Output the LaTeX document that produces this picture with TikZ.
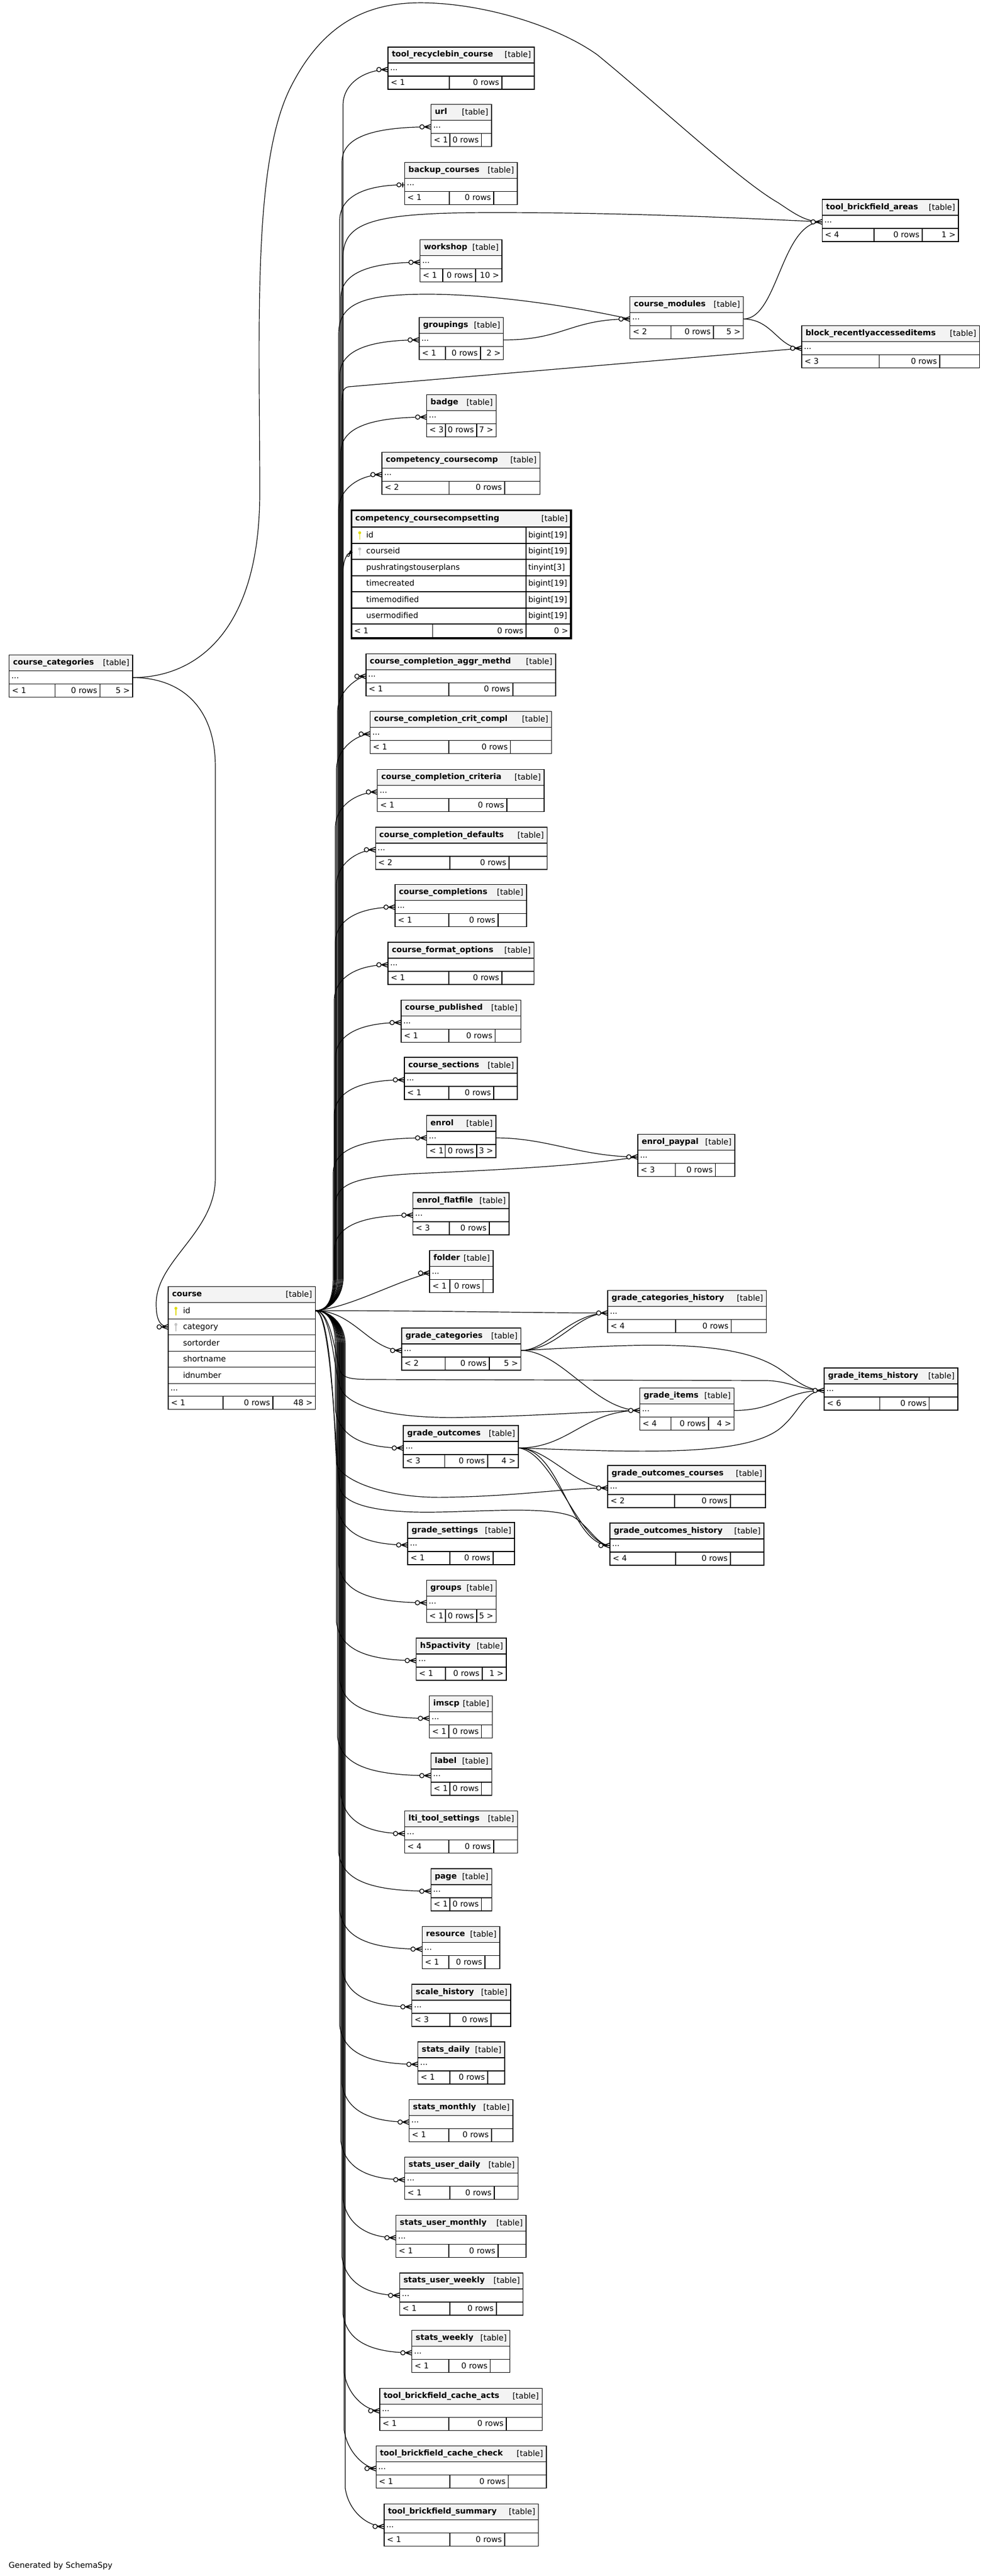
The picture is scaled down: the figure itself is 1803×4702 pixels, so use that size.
\documentclass[tikz,border=0pt]{standalone}
\usepackage{fontspec}
\setmainfont{DejaVu Sans}
\usepackage{tikz}

\definecolor{hdgray}{HTML}{F3F3F3}
\definecolor{keyyellow}{HTML}{E0DC00}
\definecolor{keygray}{HTML}{C4C4C4}

\tikzset{
  cell/.style={draw, line width=1.3pt, fill=white, inner sep=0pt, outer sep=0pt, anchor=north west, minimum height=24pt},
  hdcell/.style={cell, fill=hdgray, minimum height=29pt},
  txt/.style={inner sep=0pt, outer sep=0pt, text height=9pt, text depth=0pt, font=\fontsize{14.5pt}{17pt}\selectfont},
  ttl/.style={txt, font=\fontsize{14.5pt}{17pt}\selectfont\bfseries},
  fk/.style={line width=1.2pt},
  crowfoot/.pic={
    \draw[line width=1.5pt] (-12pt,0pt) -- (0pt,4.5pt) (-12pt,0pt) -- (0pt,-4.5pt) (-12pt,0pt) -- (0pt,0pt);
    \draw[line width=1.3pt, fill=white] (-16.5pt,0pt) circle (4pt);
  },
  teedot/.pic={
    \draw[line width=2.2pt] (-3.6pt,-4.5pt) -- (-3.6pt,4.5pt);
    \draw[line width=1.3pt, fill=white] (-10.4pt,0pt) circle (3.8pt);
  },
  pkkey/.pic={
    \fill[#1] (0pt,4.5pt) circle (2.7pt);
    \fill[#1] (-0.9pt,4.5pt) rectangle (0.9pt,-8pt);
  }
}

% table: name, title, left, top, right, footer split 1, footer split 2, left count, right count
\newcommand{\dbtable}[9]{%
  \node[hdcell, minimum width={(#5-#3)*1pt}] (#1) at (#3,#4) {};
  \node[ttl, anchor=west] (#1-n) at ([xshift=7pt,yshift=1pt]#1.west) {#2};
  \node[txt, anchor=east] (#1-k) at ([xshift=-6pt]#1.east) {[table]};
  \node[cell, minimum width={(#5-#3)*1pt}] (#1-r) at (#1.south west) {};
  \node[txt, anchor=west] (#1-d) at ([xshift=4pt,yshift=3pt]#1-r.west) {...};
  \node[cell, minimum width={(#6-#3)*1pt}] (#1-a) at (#1-r.south west) {};
  \node[cell, minimum width={(#7-#6)*1pt}] (#1-b) at (#1-a.north east) {};
  \node[cell, minimum width={(#5-#7)*1pt}] (#1-c) at (#1-b.north east) {};
  \node[txt, anchor=west] (#1-p) at ([xshift=5pt]#1-a.west) {#8};
  \node[txt, anchor=east] (#1-q) at ([xshift=-5pt]#1-b.east) {0 rows};
  \node[txt, anchor=east] (#1-s) at ([xshift=-5pt]#1-c.east) {#9};
}

\begin{document}
\begin{tikzpicture}[x=1pt, y=-1pt]
\useasboundingbox (0,0) rectangle (1803,4702);

\dbtable{recycle}{tool\_recyclebin\_course}{708}{86}{975}{820}{916}{< 1}{}
\dbtable{url}{url}{786.6}{190.6}{897}{821}{878.6}{< 1}{}
\dbtable{backup}{backup\_courses}{738.4}{296.4}{944}{820}{901}{< 1}{}
\dbtable{tba}{tool\_brickfield\_areas}{1500.4}{364}{1749}{1595}{1683}{< 4}{1 >}
\dbtable{workshop}{workshop}{766.5}{437.8}{916}{808}{868}{< 1}{10 >}
\dbtable{cm}{course\_modules}{1149.8}{541.3}{1356.5}{1224.7}{1302}{< 2}{5 >}
\dbtable{groupings}{groupings}{765}{579.5}{918.8}{813}{877}{< 1}{2 >}
\dbtable{bra}{block\_recentlyaccesseditems}{1463}{594.7}{1787.4}{1604.5}{1715}{< 3}{}
\dbtable{badge}{badge}{778.7}{720.3}{905.3}{813}{870}{< 3}{7 >}
\dbtable{ccomp}{competency\_coursecomp}{697}{825.3}{985.3}{819.7}{921}{< 2}{}
\dbtable{cc}{course\_categories}{16.8}{1195.7}{242}{100.4}{182.5}{< 1}{5 >}
\dbtable{ccaggr}{course\_completion\_aggr\_methd}{667.9}{1193.4}{1014}{819}{936}{< 1}{}
\dbtable{cccrit}{course\_completion\_crit\_compl}{675.5}{1298.8}{1006.6}{819}{931.6}{< 1}{}
\dbtable{cccrita}{course\_completion\_criteria}{688.8}{1404.6}{992.9}{819}{925}{< 1}{}
\dbtable{ccdef}{course\_completion\_defaults}{685.2}{1510}{998.5}{821}{929}{< 2}{}
\dbtable{ccompl}{course\_completions}{721}{1614.8}{961}{819}{909}{< 1}{}
\dbtable{cfo}{course\_format\_options}{708}{1720}{974.5}{819}{916}{< 1}{}
\dbtable{cpub}{course\_published}{732}{1825.5}{950.5}{819}{903.6}{< 1}{}
\dbtable{csec}{course\_sections}{738}{1930}{944}{819}{901}{< 1}{}
\dbtable{enrol}{enrol}{778.6}{2036}{905}{812.8}{870}{< 1}{3 >}
\dbtable{epay}{enrol\_paypal}{1164}{2070.7}{1341}{1232.7}{1305.6}{< 3}{}
\dbtable{eflat}{enrol\_flatfile}{753.6}{2177}{929}{820}{893}{< 3}{}
\dbtable{folder}{folder}{784}{2282.7}{900}{821}{881.6}{< 1}{}
\dbtable{gch}{grade\_categories\_history}{1109}{2355.6}{1398.6}{1233}{1334.5}{< 4}{}
\dbtable{gc}{grade\_categories}{733}{2424}{950.5}{812.8}{893}{< 2}{5 >}
\dbtable{gih}{grade\_items\_history}{1504}{2497}{1748}{1605.6}{1695.8}{< 6}{}
\dbtable{gi}{grade\_items}{1167.6}{2533.5}{1339.4}{1224.6}{1293}{< 4}{4 >}
\dbtable{go}{grade\_outcomes}{736}{2602}{946}{811.7}{890}{< 3}{4 >}
\dbtable{goc}{grade\_outcomes\_courses}{1109}{2675}{1397}{1231}{1333}{< 2}{}
\dbtable{goh}{grade\_outcomes\_history}{1113}{2780}{1394}{1233}{1333}{< 4}{}
\dbtable{gset}{grade\_settings}{744}{2779}{939}{821}{900}{< 1}{}
\dbtable{groups}{groups}{778.3}{2884.5}{905.3}{813}{870}{< 1}{5 >}
\dbtable{h5p}{h5pactivity}{759.7}{2990}{924}{813}{880}{< 1}{1 >}
\dbtable{imscp}{imscp}{783.7}{3095.5}{898.7}{819}{878.7}{< 1}{}
\dbtable{label}{label}{786.3}{3200}{897.3}{821}{878.7}{< 1}{}
\dbtable{lti}{lti\_tool\_settings}{738.3}{3305.8}{944.3}{819}{901}{< 4}{}
\dbtable{page}{page}{786.3}{3411}{897.3}{821}{878.7}{< 1}{}
\dbtable{resource}{resource}{770.3}{3516.7}{912}{819}{885}{< 1}{}
\dbtable{scaleh}{scale\_history}{751.7}{3622}{932}{821}{896}{< 3}{}
\dbtable{sdaily}{stats\_daily}{762.7}{3727}{921}{821}{890}{< 1}{}
\dbtable{smonthly}{stats\_monthly}{746.7}{3832.4}{936}{819}{897}{< 1}{}
\dbtable{sudaily}{stats\_user\_daily}{738.7}{3937.6}{945.3}{821}{902}{< 1}{}
\dbtable{sumonthly}{stats\_user\_monthly}{722.7}{4043.5}{960}{819}{909}{< 1}{}
\dbtable{suweekly}{stats\_user\_weekly}{729.3}{4148.8}{954.7}{821}{906}{< 1}{}
\dbtable{sweekly}{stats\_weekly}{751.7}{4253.5}{930.7}{819}{894.7}{< 1}{}
\dbtable{tbca}{tool\_brickfield\_cache\_acts}{693}{4359.4}{989.3}{819}{924}{< 1}{}
\dbtable{tbcc}{tool\_brickfield\_cache\_check}{686.3}{4464.7}{997}{821}{927.7}{< 1}{}
\dbtable{tbsum}{tool\_brickfield\_summary}{701}{4570.6}{982.7}{821}{921}{< 1}{}

% competency_coursecompsetting
\node[hdcell, line width=1.6pt, minimum width=400.6pt, minimum height=30.5pt] (ccs) at (641.4,931.7) {};
\node[ttl, anchor=west] (ccs-n) at ([xshift=7pt,yshift=1pt]ccs.west) {competency\_coursecompsetting};
\node[txt, anchor=east] (ccs-k) at ([xshift=-6pt]ccs.east) {[table]};
\foreach \rn/\rt/\ty [count=\i from 0] in {id/id/{bigint[19]}, cid/courseid/{bigint[19]},
    push/pushratingstouserplans/{tinyint[3]}, tc/timecreated/{bigint[19]},
    tm/timemodified/{bigint[19]}, um/usermodified/{bigint[19]}}{
  \node[cell, line width=1.6pt, minimum width=318.6pt, minimum height=29.5pt] (ccs-\rn) at (641.4,962.2+29.5*\i) {};
  \node[cell, line width=1.6pt, minimum width=82pt, minimum height=29.5pt] (ccs-\rn-t) at (ccs-\rn.north east) {};
  \node[txt, anchor=west] (ccs-\rn-l) at ([xshift=27pt]ccs-\rn.west) {\rt};
  \node[txt, anchor=west] (ccs-\rn-v) at ([xshift=4pt]ccs-\rn-t.west) {\ty};
}
\node[cell, line width=1.6pt, minimum width=148.1pt, minimum height=26pt] (ccs-a) at (ccs-um.south west) {};
\node[cell, line width=1.6pt, minimum width=170.5pt, minimum height=26pt] (ccs-b) at (ccs-a.north east) {};
\node[cell, line width=1.6pt, minimum width=82pt, minimum height=26pt] (ccs-c) at (ccs-b.north east) {};
\node[txt, anchor=west] (ccs-p) at ([xshift=5pt]ccs-a.west) {< 1};
\node[txt, anchor=east] (ccs-q) at ([xshift=-5pt]ccs-b.east) {0 rows};
\node[txt, anchor=east] (ccs-s) at ([xshift=-5pt]ccs-c.east) {0 >};
\draw[line width=3.5pt] (ccs.north west) rectangle (ccs-c.south east);
\pic at ([xshift=15pt]ccs-id.west) {pkkey=keyyellow};
\pic at ([xshift=15pt]ccs-cid.west) {pkkey=keygray};

% course
\node[hdcell, minimum width=268.5pt, minimum height=29.5pt] (course) at (307,2348.3) {};
\node[ttl, anchor=west] (course-n) at ([xshift=7pt,yshift=1pt]course.west) {course};
\node[txt, anchor=east] (course-k) at ([xshift=-6pt]course.east) {[table]};
\node[cell, minimum width=268.5pt, minimum height=29.5pt] (course-id) at (course.south west) {};
\node[cell, minimum width=268.5pt, minimum height=29.5pt] (course-cat) at (course-id.south west) {};
\node[cell, minimum width=268.5pt, minimum height=29.5pt] (course-so) at (course-cat.south west) {};
\node[cell, minimum width=268.5pt, minimum height=29.5pt] (course-sn) at (course-so.south west) {};
\node[cell, minimum width=268.5pt, minimum height=29.5pt] (course-in) at (course-sn.south west) {};
\node[cell, minimum width=268.5pt, minimum height=23.5pt] (course-r) at (course-in.south west) {};
\node[cell, minimum width=100pt] (course-a) at (course-r.south west) {};
\node[cell, minimum width=91pt] (course-b) at (course-a.north east) {};
\node[cell, minimum width=77.5pt] (course-c) at (course-b.north east) {};
\node[txt, anchor=west] (course-id-l) at ([xshift=27pt]course-id.west) {id};
\node[txt, anchor=west] (course-cat-l) at ([xshift=27pt]course-cat.west) {category};
\node[txt, anchor=west] (course-so-l) at ([xshift=27pt]course-so.west) {sortorder};
\node[txt, anchor=west] (course-sn-l) at ([xshift=27pt]course-sn.west) {shortname};
\node[txt, anchor=west] (course-in-l) at ([xshift=27pt]course-in.west) {idnumber};
\node[txt, anchor=west] (course-d) at ([xshift=4pt,yshift=3pt]course-r.west) {...};
\node[txt, anchor=west] (course-p) at ([xshift=5pt]course-a.west) {< 1};
\node[txt, anchor=east] (course-q) at ([xshift=-5pt]course-b.east) {0 rows};
\node[txt, anchor=east] (course-s) at ([xshift=-5pt]course-c.east) {48 >};
\pic at ([xshift=14pt]course-id.west) {pkkey=keyyellow};
\pic at ([xshift=14pt]course-cat.west) {pkkey=keygray};

\node[txt, anchor=west] (gen) at (16,4683) {Generated by SchemaSpy};

% course -> tables in the left column
\foreach \tb/\yc/\xt in {recycle/127/626, url/231.6/624, workshop/478.8/622, groupings/620.5/620,
    badge/761.3/622, ccomp/866.3/618, ccaggr/1234.4/616, cccrit/1339.8/614, cccrita/1445.6/612,
    ccdef/1551/614, ccompl/1655.8/612, cfo/1761/610, cpub/1866.5/612, csec/1971/610,
    enrol/2077/608, eflat/2218/610}{
  \draw[fk] (course-id.east) .. controls (598,2392) and (\xt,2372) .. (\xt,2330) -- (\xt,\yc+65)
    .. controls (\xt,\yc+25) and (\xt+40,\yc) .. (\tb-r.west);
  \pic at (\tb-r.west) {crowfoot};
}
\foreach \tb/\yc/\xt in {go/2643/612, gset/2820/616, groups/2925.5/618, h5p/3031/614,
    imscp/3136.5/620, label/3241/616, lti/3346.8/622, page/3452/618, resource/3557.7/620,
    scaleh/3663/624, sdaily/3768/620, smonthly/3873.4/624, sudaily/3978.6/622,
    sumonthly/4084.5/626, suweekly/4189.8/624, sweekly/4294.5/626, tbca/4400.4/628,
    tbcc/4505.7/628, tbsum/4611.6/630}{
  \draw[fk] (course-id.east) .. controls (598,2392) and (\xt,2412) .. (\xt,2455) -- (\xt,\yc-70)
    .. controls (\xt+6,\yc-28) and (\xt+40,\yc) .. (\tb-r.west);
  \pic at (\tb-r.west) {crowfoot};
}

% course -> other tables
\draw[fk] (course-id.east) .. controls (598,2392) and (620,2372) .. (620,2330) -- (620,402)
  .. controls (620,362) and (660,337.4) .. (backup-r.west);
\draw[fk] (course-id.east) .. controls (598,2392) and (626,2372) .. (626,2330) -- (626,470)
  .. controls (626,405) and (680,388) .. (900,388) .. controls (1150,388) and (1350,398) .. (tba-r.west);
\draw[fk] (course-id.east) .. controls (598,2392) and (618,2372) .. (618,2330) -- (618,610)
  .. controls (618,555) and (660,537) .. (780,537) .. controls (900,537) and (1050,560) .. (cm-r.west);
\draw[fk] (course-id.east) .. controls (598,2392) and (624,2372) .. (624,2330) -- (624,740)
  .. controls (624,715) and (626,708) .. (636,706) -- (bra-r.west);
\draw[fk] (course-id.east) .. controls (598,2392) and (626,2372) .. (626,2330) -- (626,1050)
  .. controls (626,1025) and (630,1013) .. (ccs-cid.west);
\draw[fk] (course-id.east) .. controls (598,2392) and (612,2372) .. (612,2330) -- (612,2200)
  .. controls (612,2160) and (650,2148) .. (760,2142) .. controls (900,2136) and (1060,2128) .. (epay-r.west);
\draw[fk] (course-id.east) .. controls (640,2386) and (720,2340) .. (folder-r.west);
\draw[fk] (course-id.east) .. controls (800,2392) and (1000,2397) .. (gch-r.west);
\draw[fk] (course-id.east) .. controls (645,2392) and (675,2465) .. (gc-r.west);
\draw[fk] (course-id.east) .. controls (605,2392) and (612,2480) .. (622,2505)
  .. controls (628,2515) and (640,2518) .. (680,2518) -- (1400,2520) .. controls (1440,2521) and (1465,2538) .. (gih-r.west);
\draw[fk] (course-id.east) .. controls (606,2392) and (608,2500) .. (622,2535)
  .. controls (640,2575) and (740,2590) .. (850,2587) .. controls (1000,2584) and (1100,2575) .. (gi-r.west);
\draw[fk] (course-id.east) .. controls (604,2392) and (610,2600) .. (614,2670)
  .. controls (618,2700) and (700,2735) .. (810,2733) .. controls (950,2731) and (1030,2716) .. (goc-r.west);
\draw[fk] (course-id.east) .. controls (604,2392) and (612,2650) .. (620,2715)
  .. controls (626,2750) and (700,2762) .. (800,2760) .. controls (900,2758) and (1000,2750) .. (1045,2768)
  .. controls (1075,2785) and (1090,2821) .. (goh-r.west);

% course_categories
\draw[fk] (cc-r.east) .. controls (330,1237) and (393,1290) .. (393,1400) -- (393,2150)
  .. controls (393,2250) and (285,2300) .. (285,2380) .. controls (285,2405) and (290,2421) .. (course-cat.west);
\draw[fk] (cc-r.east) .. controls (360,1237) and (474,1150) .. (474,900) .. controls (474,600) and (460,300) .. (530,160)
  .. controls (600,20) and (700,0) .. (796,6) .. controls (900,12) and (1020,50) .. (1090,100)
  .. controls (1200,190) and (1350,330) .. (1420,370) .. controls (1450,390) and (1470,405) .. (tba-r.west);

% the rest
\draw[fk] (cm-r.east) .. controls (1420,582.3) and (1425,405) .. (tba-r.west);
\draw[fk] (cm-r.east) .. controls (1410,582.3) and (1420,635.7) .. (bra-r.west);
\draw[fk] (groupings-r.east) .. controls (1030,620.5) and (1040,582.3) .. (cm-r.west);
\draw[fk] (enrol-r.east) .. controls (1000,2077) and (1060,2111.7) .. (epay-r.west);
\draw[fk] (gc-r.east) .. controls (1000,2465) and (1040,2396.6) .. (gch-r.west);
\draw[fk] (gc-r.east) .. controls (1018,2465) and (1052,2396.6) .. (gch-r.west);
\draw[fk] (gc-r.east) .. controls (1150,2455) and (1330,2440) .. (1420,2497) .. controls (1450,2517) and (1470,2538) .. (gih-r.west);
\draw[fk] (gc-r.east) .. controls (1025,2465) and (1085,2574.5) .. (gi-r.west);
\draw[fk] (gi-r.east) .. controls (1420,2574.5) and (1430,2538) .. (gih-r.west);
\draw[fk] (go-r.east) .. controls (1040,2643) and (1065,2574.5) .. (gi-r.west);
\draw[fk] (go-r.east) .. controls (1150,2650) and (1350,2660) .. (1420,2610) .. controls (1460,2580) and (1465,2538) .. (gih-r.west);
\draw[fk] (go-r.east) .. controls (1000,2643) and (1050,2716) .. (goc-r.west);
\draw[fk] (go-r.east) .. controls (1025,2643) and (1040,2821) .. (goh-r.west);
\draw[fk] (go-r.east) .. controls (1010,2650) and (1055,2818) .. (goh-r.west);

\pic at (backup-r.west) {teedot};
\pic[scale=0.55, rotate=50] at (ccs-cid.west) {crowfoot};
\foreach \tb in {tba, cm, bra, epay, folder, gch, gc, gih, gi, goc, goh}{
  \pic at (\tb-r.west) {crowfoot};
}
\pic at (course-cat.west) {crowfoot};

\end{tikzpicture}
\end{document}
